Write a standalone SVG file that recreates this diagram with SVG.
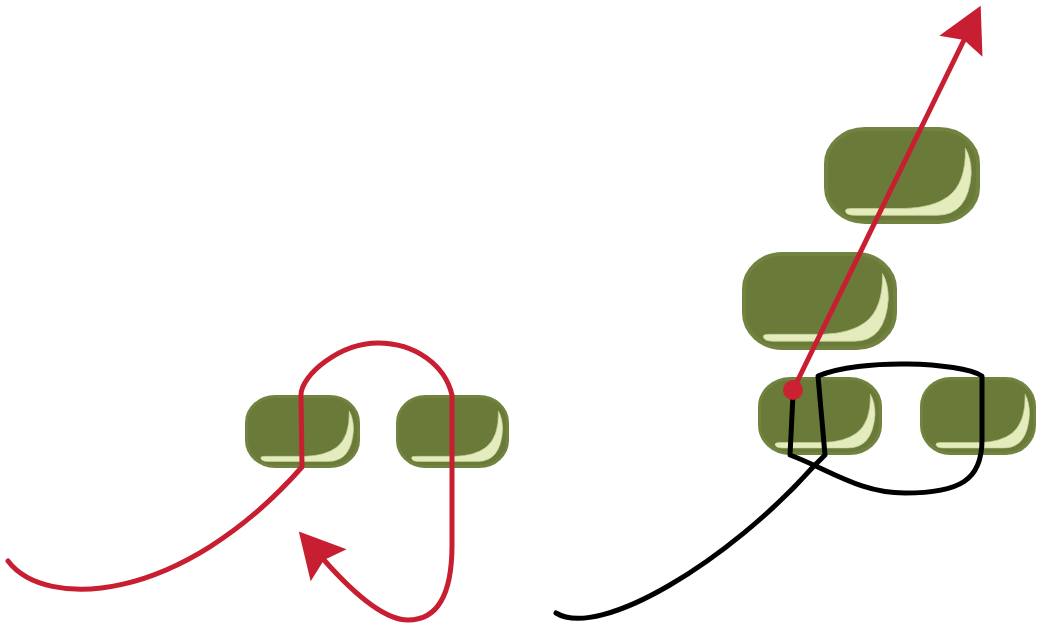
<svg xmlns="http://www.w3.org/2000/svg" xmlns:xlink="http://www.w3.org/1999/xlink" width="1038" height="628" viewBox="0 0 1038 628">
<style>
.red{fill:none;stroke:#c81e32;stroke-width:5;stroke-linejoin:round;stroke-linecap:round}
.blk{fill:none;stroke:#000;stroke-width:5;stroke-linejoin:round;stroke-linecap:round}
.body{fill:#6a7a39;stroke:#728340;stroke-width:4}
.hl{fill:#e4ecbd;stroke:#c9d49a;stroke-width:0.8}
</style>
<defs>
<symbol id="pill" viewBox="0 0 160 100" preserveAspectRatio="none">
<rect class="body" x="2" y="2" width="156" height="96" rx="40" ry="36"/>
<path class="hl" d="M22,86 Q22,91 32,91 L116,91 Q148,91 151,48 Q151,32 145,22 Q146,58 127,72 Q112,83 84,84 L28,84 Q22,84 22,86 Z"/>
</symbol>
<marker id="arrow" markerUnits="userSpaceOnUse" viewBox="-10 -26 50 52" markerWidth="50" markerHeight="52" refX="0" refY="0" orient="auto">
<path d="M38,0 L-7,-24 L0,0 L-7,24 Z" fill="#c81e32"/>
</marker>
</defs>
<g id="nodes">
<g id="pill-left-1"><use xlink:href="#pill" x="245" y="395" width="115" height="73"/></g>
<g id="pill-left-2"><use xlink:href="#pill" x="396" y="395" width="113" height="73"/></g>
<g id="pill-right-a"><use xlink:href="#pill" x="758" y="377" width="124" height="78"/></g>
<g id="pill-right-b"><use xlink:href="#pill" x="920" y="377" width="116" height="78"/></g>
<g id="pill-middle"><use xlink:href="#pill" x="742" y="252" width="155" height="98"/></g>
<g id="pill-top"><use xlink:href="#pill" x="824" y="127" width="156" height="97"/></g>
</g>
<g id="connectors">
<path class="red" marker-end="url(#arrow)" d="M8,561 C45,610 180,605 302,467 L301,395 C301,375 340,343 378,343 C415,343 445,365 452,395 L452,545 C452,590 440,620 408,620 C385,620 355,595 324,560"/>
<path class="blk" d="M556,613 C600,640 730,560 813,467 L825,455 L818,376 C860,358 960,362 982,376 L982,440 C982,480 960,493 905,493 C860,493 830,470 790,455 L793,395"/>
<path class="red" marker-end="url(#arrow)" d="M793,390 L964,40"/>
<circle cx="793" cy="390" r="10" fill="#cc2033"/>
</g>
</svg>
